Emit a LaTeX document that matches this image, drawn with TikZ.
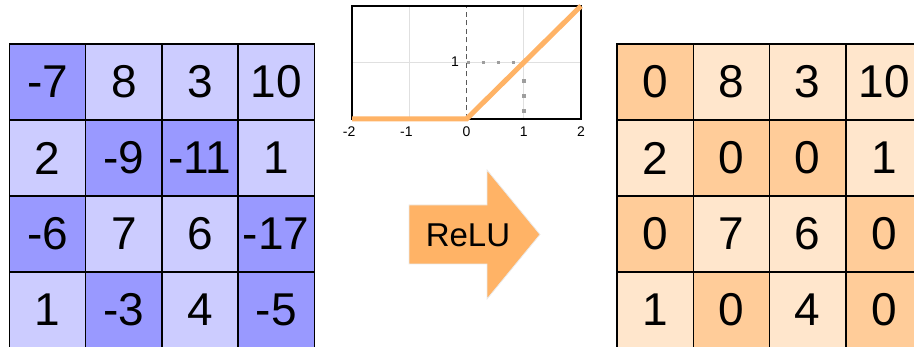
\documentclass[tikz,border=0pt]{standalone}
\usepackage{fontspec}
\setmainfont{Liberation Sans}
\definecolor{bdark}{HTML}{9999FF}
\definecolor{blight}{HTML}{CCCCFF}
\definecolor{odark}{HTML}{FFCC99}
\definecolor{olight}{HTML}{FFE6CC}
\definecolor{reluc}{HTML}{FFB366}
\tikzset{
  cellbox/.style={draw=black, line width=1.5pt, minimum width=76.2pt, minimum height=76pt,
    inner sep=0pt, outer sep=0pt, font=\fontsize{46}{50}\selectfont},
  bneg/.style={cellbox, fill=bdark},
  bposi/.style={cellbox, fill=blight},
  ozer/.style={cellbox, fill=odark},
  oval/.style={cellbox, fill=olight},
  ticklbl/.style={inner sep=0pt, font=\fontsize{14}{15}\selectfont},
}
\begin{document}
\begin{tikzpicture}[x=1pt, y=-1pt]
\useasboundingbox (0,0) rectangle (914,347);
% input grid
\foreach \r/\c/\v/\s in {1/1/-7/bneg,1/2/8/bposi,1/3/3/bposi,1/4/10/bposi,
  2/1/2/bposi,2/2/-9/bneg,2/3/-11/bneg,2/4/1/bposi,
  3/1/-6/bneg,3/2/7/bposi,3/3/6/bposi,3/4/-17/bneg,
  4/1/1/bposi,4/2/-3/bneg,4/3/4/bposi,4/4/-5/bneg}
  \node[\s] (l-\r-\c) at ({9.5+76.2*(\c-0.5)},{44+76*(\r-0.5)}) {\v};
% output grid
\foreach \r/\c/\v/\s in {1/1/0/ozer,1/2/8/oval,1/3/3/oval,1/4/10/oval,
  2/1/2/oval,2/2/0/ozer,2/3/0/ozer,2/4/1/oval,
  3/1/0/ozer,3/2/7/oval,3/3/6/oval,3/4/0/ozer,
  4/1/1/oval,4/2/0/ozer,4/3/4/oval,4/4/0/ozer}
  \node[\s] (r-\r-\c) at ({617+76.3*(\c-0.5)},{44+76*(\r-0.5)}) {\v};
% arrow
\filldraw[fill=reluc, draw=white!92!black, line width=0.8pt]
  (409,205) -- (487,205) -- (487,170) -- (540,234.5) -- (487,299) -- (487,264) -- (409,264) -- cycle;
\node[inner sep=0pt, font=\fontsize{33}{36}\selectfont] (relu) at (468,235) {ReLU};
% graph
\begin{scope}[shift={(466.5pt,-119pt)}, x=57.25pt, y=56.5pt]
  \fill[white] (-2,0) rectangle (2,2);
  \draw[black!12, line width=0.9pt] (-1,0) -- (-1,2) (1,0) -- (1,2) (-2,1) -- (2,1);
  \draw[black!65, line width=1.2pt, dash pattern=on 5pt off 3.5pt] (0,0) -- (0,2);
  \draw[black!38, line width=3.5pt, dash pattern=on 3.5pt off 11.5pt] (0.0,1) -- (0.95,1);
  \draw[black!38, line width=3.5pt, dash pattern=on 3.5pt off 11.5pt] (1,0.7) -- (1,0.05);
  \draw[black, line width=1.3pt] (-2,0) rectangle (2,2);
  \draw[reluc, line width=5pt] (-2,0) -- (0,0) -- (2,2);
  \node[ticklbl] (tm2) at (-2.05,-0.22) {-2};
  \node[ticklbl] (tm1) at (-1.05,-0.22) {-1};
  \node[ticklbl] (t0) at (0,-0.22) {0};
  \node[ticklbl] (t1) at (1,-0.22) {1};
  \node[ticklbl] (t2) at (2,-0.22) {2};
  \node[ticklbl] (ty1) at (-0.2,1.02) {1};
\end{scope}
\end{tikzpicture}
\end{document}
